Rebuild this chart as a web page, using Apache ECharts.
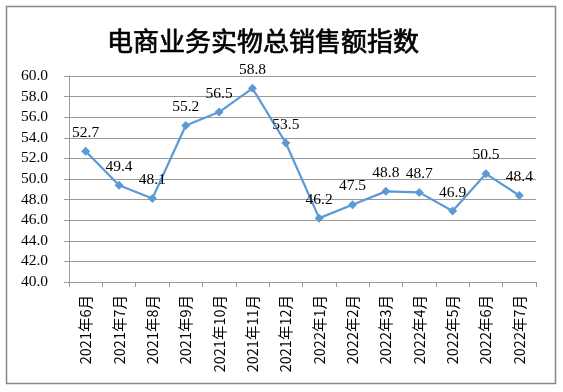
<!DOCTYPE html>
<html><head><meta charset="utf-8">
<script src="https://cdn.jsdelivr.net/npm/echarts@6/dist/echarts.min.js"></script>
<style>html,body{margin:0;padding:0;background:#fff}#c{width:563px;height:392px}</style>
</head><body><div id="c"></div>
<script>
var titleText = '电商业务实物总销售额指数';
var categories = ['2021年6月','2021年7月','2021年8月','2021年9月','2021年10月','2021年11月','2021年12月','2022年1月','2022年2月','2022年3月','2022年4月','2022年5月','2022年6月','2022年7月'];
var values = [52.7, 49.4, 48.1, 55.2, 56.5, 58.8, 53.5, 46.2, 47.5, 48.8, 48.7, 46.9, 50.5, 48.4];
var yMin = 40, yMax = 60, yStep = 2;

var chart = echarts.init(document.getElementById('c'), null, {renderer:'canvas'});
chart.setOption({
  animation: false,
  backgroundColor: '#fff',
  graphic: [{
    type: 'rect', shape: {x: 6.5, y: 6.5, width: 549, height: 377},
    style: {fill: null, stroke: '#898989', lineWidth: 1.5}, silent: true
  }],
  title: {
    text: titleText, left: 102, top: 23,
    textStyle: {fontFamily: '"Noto Sans CJK SC"', fontSize: 26, fontWeight: 'normal', color: '#000',
      textBorderColor: '#000', textBorderWidth: 0.7}
  },
  grid: {left: 69, right: 27, top: 76, bottom: 110, containLabel: false},
  xAxis: {
    type: 'category', data: categories, boundaryGap: true,
    axisLine: {lineStyle: {color: '#9a9a9a', width: 1}},
    axisTick: {show: true, length: 5, lineStyle: {color: '#9a9a9a'}},
    axisLabel: {rotate: 90, margin: 13, interval: 0, color: '#000', fontSize: 14.5,
      fontFamily: '"Noto Sans CJK SC", sans-serif'}
  },
  yAxis: {
    type: 'value', min: yMin, max: yMax, interval: yStep,
    axisLine: {show: true, lineStyle: {color: '#9a9a9a'}},
    axisTick: {show: true, length: 5, lineStyle: {color: '#9a9a9a'}},
    splitLine: {lineStyle: {color: '#9a9a9a', width: 1}},
    axisLabel: {margin: 21, color: '#000', fontSize: 15.5, fontFamily: '"Liberation Serif", serif',
      formatter: function(v){ return v.toFixed(1); }}
  },
  series: [{
    type: 'line', data: values,
    symbol: 'diamond', symbolSize: 9,
    lineStyle: {color: '#5b9bd5', width: 2.2},
    itemStyle: {color: '#5b9bd5'},
    label: {show: true, position: 'top', distance: 6, color: '#000', fontSize: 15.5,
      fontFamily: '"Liberation Serif", serif',
      formatter: function(p){ return p.value.toFixed(1); }}
  }]
});
</script></body></html>
